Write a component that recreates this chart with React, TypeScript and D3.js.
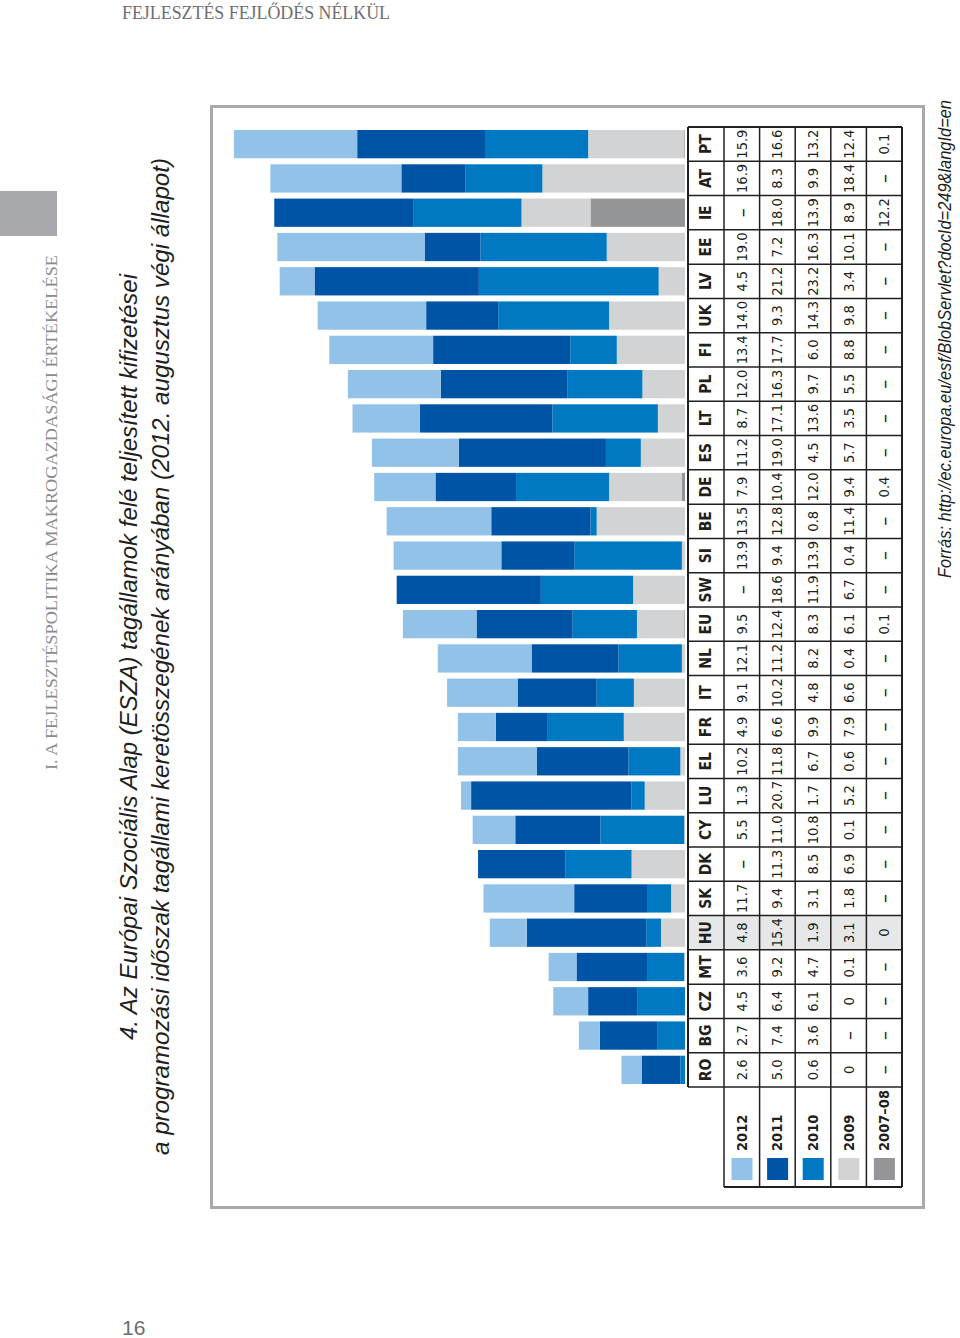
import React from "react";
import * as d3 from "d3";

const countries = ["RO","BG","CZ","MT","HU","SK","DK","CY","LU","EL","FR","IT","NL","EU","SW","SI","BE","DE","ES","LT","PL","FI","UK","LV","EE","IE","AT","PT"];
const v2012 = [2.6,2.7,4.5,3.6,4.8,11.7,null,5.5,1.3,10.2,4.9,9.1,12.1,9.5,null,13.9,13.5,7.9,11.2,8.7,12.0,13.4,14.0,4.5,19.0,null,16.9,15.9];
const v2011 = [5.0,7.4,6.4,9.2,15.4,9.4,11.3,11.0,20.7,11.8,6.6,10.2,11.2,12.4,18.6,9.4,12.8,10.4,19.0,17.1,16.3,17.7,9.3,21.2,7.2,18.0,8.3,16.6];
const v2010 = [0.6,3.6,6.1,4.7,1.9,3.1,8.5,10.8,1.7,6.7,9.9,4.8,8.2,8.3,11.9,13.9,0.8,12.0,4.5,13.6,9.7,6.0,14.3,23.2,16.3,13.9,9.9,13.2];
const v2009 = [0,null,0,0.1,3.1,1.8,6.9,0.1,5.2,0.6,7.9,6.6,0.4,6.1,6.7,0.4,11.4,9.4,5.7,3.5,5.5,8.8,9.8,3.4,10.1,8.9,18.4,12.4];
const v0708 = [null,null,null,null,0,null,null,null,null,null,null,null,null,0.1,null,null,null,0.4,null,null,null,null,null,null,null,12.2,null,0.1];

const seriesLabels = ["2012","2011","2010","2009","2007–08"];
const seriesValues = [v2012, v2011, v2010, v2009, v0708];
const seriesColors = ["#92c2e8","#0054a6","#0079c2","#d1d3d4","#939598"];
const highlight = "HU";

const title1 = "4. Az Európai Szociális Alap (ESZA) tagállamok felé teljesített kifizetései";
const title2 = "a programozási időszak tagállami keretösszegének arányában (2012. augusztus végi állapot)";
const source = "Forrás: http://ec.europa.eu/esf/BlobServlet?docId=249&langId=en";
const header = "FEJLESZTÉS FEJLŐDÉS NÉLKÜL";
const sideText = "I. A FEJLESZTÉSPOLITIKA MAKROGAZDASÁGI ÉRTÉKELÉSE";
const pageNo = "16";

const W = 960, H = 1338;
const narrow = "'Liberation Sans Narrow', 'DejaVu Sans Condensed', 'Liberation Sans', sans-serif";

export default function App() {
  const colScale = d3.scaleBand<string>().domain(countries).range([1087, 127]);
  const step = colScale.step();
  const xVal = d3.scaleLinear().domain([0, 60]).range([685, 685 - 60 * 7.75]);
  const rowEdges = [688, 724, 759.6, 795.2, 830.8, 866.4, 902];

  const stackKeys = [4, 3, 2, 1, 0];
  const rows = countries.map((c, i) => {
    const o: any = { c };
    stackKeys.forEach(k => { o["s" + k] = seriesValues[k][i] ?? 0; });
    return o;
  });
  const stacked = d3.stack<any>().keys(stackKeys.map(k => "s" + k))(rows);

  const fmt = (v: number | null) => (v === null ? "–" : v === 0 ? "0" : v.toFixed(1));
  const rot = (x: number, y: number) => `translate(${x},${y}) rotate(-90)`;
  const lineCol = "#231f20";

  const labelTop = 1087, labelBottom = 1187;

  return (
    <svg width={W} height={H} style={{ position: "absolute", left: 0, top: 0, background: "#fff" }}>
      <text x={122} y={19} fontFamily="'Liberation Serif', 'DejaVu Serif', serif" fontSize={18} fill="#6d6e71" textLength={268} lengthAdjust="spacingAndGlyphs">{header}</text>
      <rect x={0} y={191} width={57} height={45} fill="#a7a9ac" />
      <text transform={rot(57, 770)} fontFamily="'Liberation Serif', 'DejaVu Serif', serif" fontSize={16} fill="#8a8c8e" textLength={515} lengthAdjust="spacingAndGlyphs">{sideText}</text>
      <text x={122} y={1335} fontFamily="'Liberation Sans', sans-serif" fontSize={21} fill="#6d6e71">{pageNo}</text>

      <text transform={rot(137, 1040)} fontFamily="'Liberation Sans', sans-serif" fontStyle="italic" fontSize={24} fill="#231f20" textLength={766} lengthAdjust="spacingAndGlyphs">{title1}</text>
      <text transform={rot(169, 1155)} fontFamily="'Liberation Sans', sans-serif" fontStyle="italic" fontSize={24} fill="#231f20" textLength={997} lengthAdjust="spacingAndGlyphs">{title2}</text>

      <rect x={211.5} y={106.5} width={712} height={1101} fill="none" stroke="#a7a9ac" strokeWidth={3} />

      {stacked.map((layer, li) => {
        const k = stackKeys[li];
        return (
          <g key={layer.key} fill={seriesColors[k]}>
            {layer.map((d, i) => {
              const x0 = xVal(d[1]);
              const x1 = xVal(d[0]);
              const w = x1 - x0;
              if (w <= 0) return null;
              return <rect key={i} x={x0} y={(colScale(countries[i]) as number) + 3} width={w} height={step - 6} />;
            })}
          </g>
        );
      })}

      <rect x={rowEdges[0]} y={colScale(highlight)} width={rowEdges[6] - rowEdges[0]} height={step} fill="#e6e7e8" />

      <g stroke={lineCol} fill="none">
        <line x1={rowEdges[0]} x2={rowEdges[0]} y1={127} y2={labelTop} strokeWidth={2} />
        {rowEdges.slice(1).map((x, i) => (
          <line key={i} x1={x} x2={x} y1={127} y2={labelBottom} strokeWidth={i === 5 ? 2 : 1.5} />
        ))}
        {countries.map((c, i) => (
          <line key={c} x1={rowEdges[0]} x2={rowEdges[6]} y1={colScale(c)} y2={colScale(c)} strokeWidth={i === countries.length - 1 ? 2 : 1.5} />
        ))}
        <line x1={rowEdges[0]} x2={rowEdges[6]} y1={labelTop} y2={labelTop} strokeWidth={1.5} />
        <line x1={rowEdges[1]} x2={rowEdges[6]} y1={labelBottom} y2={labelBottom} strokeWidth={2} />
      </g>

      {countries.map(c => (
        <text key={c} transform={rot((rowEdges[0] + rowEdges[1]) / 2, (colScale(c) as number) + step / 2)} textAnchor="middle" dominantBaseline="central" fontFamily={narrow} fontWeight="bold" fontSize={15.5} fill="#231f20">{c}</text>
      ))}

      {seriesValues.map((vals, r) => (
        <g key={r}>
          {countries.map((c, i) => (
            <text key={c} transform={rot((rowEdges[r + 1] + rowEdges[r + 2]) / 2, (colScale(c) as number) + step / 2)} textAnchor="middle" dominantBaseline="central" fontFamily={narrow} fontSize={vals[i] === null ? 20 : 14.5} fill="#231f20">{fmt(vals[i])}</text>
          ))}
        </g>
      ))}

      {seriesLabels.map((l, r) => {
        const x0 = rowEdges[r + 1];
        const cx = (rowEdges[r + 1] + rowEdges[r + 2]) / 2;
        return (
          <g key={l}>
            <rect x={x0 + 7.5} y={1158} width={21} height={22} fill={seriesColors[r]} />
            <text transform={rot(cx, 1151)} dominantBaseline="central" fontFamily={narrow} fontWeight="bold" fontSize={14.5} fill="#231f20">{l}</text>
          </g>
        );
      })}

      <text transform={rot(951, 578)} fontFamily="'Liberation Sans', sans-serif" fontStyle="italic" fontSize={19} fill="#231f20" textLength={478} lengthAdjust="spacingAndGlyphs">{source}</text>
    </svg>
  );
}
